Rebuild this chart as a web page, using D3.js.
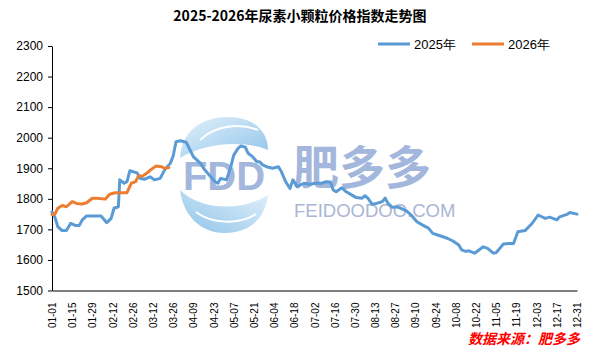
<!DOCTYPE html>
<html><head><meta charset="utf-8">
<script src="https://cdn.jsdelivr.net/npm/d3@7"></script>
<style>body{margin:0;background:#fff}svg{display:block}</style>
</head><body>
<svg id="c" width="601" height="358"></svg>
<script>
const title = "2025-2026年尿素小颗粒价格指数走势图";
const source = "数据来源：肥多多";
const seriesNames = ["2025年", "2026年"];
const xTickLabels = ["01-01","01-15","01-29","02-12","02-26","03-12","03-26","04-09","04-23","05-07","05-21","06-04","06-18","07-02","07-16","07-30","08-13","08-27","09-10","09-24","10-08","10-22","11-05","11-19","12-03","12-17","12-31"];
const yTicks = [1500,1600,1700,1800,1900,2000,2100,2200,2300];

const dates2025 = ["01-01","01-03","01-05","01-08","01-11","01-14","01-17","01-20","01-22","01-25","02-04","02-08","02-11","02-13","02-16","02-17","02-20","02-22","02-24","03-01","03-03","03-06","03-10","03-13","03-17","03-20","03-24","03-26","03-28","03-31","04-04","04-05","04-09","04-11","04-14","04-17","04-20","04-24","04-26","04-28","05-02","05-05","05-07","05-10","05-12","05-15","05-17","05-20","05-23","05-25","05-27","05-31","06-03","06-07","06-09","06-12","06-15","06-17","06-20","06-22","06-25","06-29","07-02","07-07","07-10","07-13","07-15","07-17","07-21","07-24","07-28","07-31","08-04","08-06","08-08","08-11","08-14","08-18","08-20","08-22","08-25","08-28","08-31","09-04","09-07","09-11","09-15","09-19","09-22","09-27","10-02","10-06","10-10","10-12","10-15","10-17","10-21","10-27","10-30","11-03","11-05","11-10","11-14","11-17","11-20","11-25","11-30","12-04","12-09","12-12","12-17","12-19","12-24","12-26","12-31"];
const values2025 = [1757,1740,1709,1696,1696,1720,1713,1713,1731,1744,1744,1722,1736,1769,1774,1862,1851,1856,1892,1885,1867,1864,1872,1862,1867,1894,1916,1940,1987,1990,1985,1976,1938,1929,1916,1894,1878,1856,1851,1867,1862,1905,1943,1965,1973,1969,1949,1938,1921,1921,1911,1903,1900,1905,1889,1856,1834,1862,1840,1845,1851,1847,1851,1851,1856,1855,1829,1823,1836,1823,1812,1804,1802,1810,1802,1782,1785,1791,1802,1785,1772,1774,1769,1760,1747,1725,1714,1704,1687,1679,1671,1662,1649,1633,1628,1630,1622,1643,1638,1622,1624,1652,1654,1654,1692,1696,1720,1747,1736,1740,1731,1741,1749,1755,1750];

const dates2026 = ["01-01","01-03","01-05","01-08","01-11","01-15","01-18","01-22","01-25","01-29","02-01","02-07","02-10","02-14","02-22","02-25","02-28","03-02","03-05","03-08","03-11","03-14","03-18","03-20","03-23"];
const values2026 = [1749,1750,1769,1778,1774,1791,1785,1783,1787,1802,1802,1799,1815,1820,1820,1851,1856,1875,1875,1885,1897,1907,1905,1900,1902];

const parse = s => d3.timeParse("%Y-%m-%d")("2025-" + s);
const svg = d3.select("#c");
const x = d3.scaleTime().domain([parse("01-01"), parse("12-31")]).range([52, 577]);
const y = d3.scaleLinear().domain([1500, 2300]).range([290.5, 46]);

// watermark
const wm = svg.append("g");
const defs = svg.append("defs");
const g1 = defs.append("linearGradient").attr("id","lg1").attr("x1","0").attr("y1","0").attr("x2","1").attr("y2","1");
g1.append("stop").attr("offset","0").attr("stop-color","#e3f1fb");
g1.append("stop").attr("offset","1").attr("stop-color","#8fc4ea");
const g2 = defs.append("linearGradient").attr("id","lg2").attr("x1","0").attr("y1","1").attr("x2","1").attr("y2","0");
g2.append("stop").attr("offset","0").attr("stop-color","#8fc4ea");
g2.append("stop").attr("offset","1").attr("stop-color","#e3f1fb");
wm.append("path").attr("d","M180,158 C182,128 205,117 228,117 C252,117 268,130 268,150 C245,140 205,142 180,158 Z").attr("fill","url(#lg1)");
wm.append("path").attr("d","M200,140 C215,125 240,123 258,130").attr("fill","none").attr("stroke","#ffffff").attr("stroke-width",2);
wm.append("path").attr("d","M180,190 C200,210 240,212 268,195 C265,220 248,233 225,233 C200,233 183,215 180,190 Z").attr("fill","url(#lg2)");
wm.append("path").attr("d","M196,212 C212,224 238,225 256,214").attr("fill","none").attr("stroke","#ffffff").attr("stroke-width",2);
wm.append("text").attr("x",224).attr("y",190).attr("text-anchor","middle").attr("font-family","Liberation Sans, Arial").attr("font-weight","bold").attr("font-size",40).attr("fill","#a3b7dd").text("FDD");
wm.append("text").attr("x",293).attr("y",184).attr("font-family","Noto Sans CJK SC").attr("font-weight","bold").attr("font-size",46).attr("fill","#a3b7dd").text("肥多多");
wm.append("text").attr("x",294).attr("y",217).attr("font-family","Liberation Sans, Arial").attr("font-size",18.5).attr("fill","#a9b6d4").text("FEIDOODOO.COM");

// axes
const ya = svg.append("g").attr("transform","translate(52,0)")
  .call(d3.axisLeft(y).tickValues(yTicks).tickSize(4).tickSizeOuter(0).tickFormat(d3.format("d")));
ya.select(".domain").attr("stroke","#000");
ya.selectAll(".tick line").attr("stroke","#000");
ya.selectAll("text").attr("font-family","Liberation Sans, Arial").attr("font-size",12).attr("fill","#000").attr("x",-9);

const xa = svg.append("g").attr("transform","translate(0,290.5)")
  .call(d3.axisBottom(x).tickValues(xTickLabels.map(parse)).tickSize(0).tickSizeOuter(0).tickFormat(d3.timeFormat("%m-%d")));
xa.select(".domain").attr("stroke","#000");
xa.selectAll("text").attr("font-family","Liberation Sans, Arial").attr("font-size",10).attr("fill","#000")
  .attr("transform","rotate(-90)").attr("text-anchor","end").attr("x",-12).attr("y",0).attr("dy","0.35em");

// lines
const line = d3.line().x(d => x(d[0])).y(d => y(d[1]));
const d25 = dates2025.map((s,i) => [parse(s), values2025[i]]);
const d26 = dates2026.map((s,i) => [parse(s), values2026[i]]);
svg.append("path").datum(d25).attr("d",line).attr("fill","none").attr("stroke","#5b9bd5").attr("stroke-width",3).attr("stroke-linejoin","round").attr("stroke-linecap","round");
svg.append("path").datum(d26).attr("d",line).attr("fill","none").attr("stroke","#ed7d31").attr("stroke-width",3).attr("stroke-linejoin","round").attr("stroke-linecap","round");

// title
svg.append("text").attr("x",300).attr("y",21).attr("text-anchor","middle").attr("font-family","Noto Sans CJK SC").attr("font-weight","bold").attr("font-size",14).attr("fill","#000").text(title);

// legend
const lg = [[378, "#5b9bd5", seriesNames[0]], [472, "#ed7d31", seriesNames[1]]];
lg.forEach(([lx, c, t]) => {
  svg.append("line").attr("x1",lx).attr("x2",lx+32).attr("y1",44).attr("y2",44).attr("stroke",c).attr("stroke-width",3);
  svg.append("text").attr("x",lx+36).attr("y",48.5).attr("font-family","Liberation Sans, Arial").attr("font-size",13).attr("fill","#000").text(t);
});

// source
svg.append("text").attr("x",580).attr("y",344).attr("text-anchor","end").attr("font-family","Noto Sans CJK SC").attr("font-weight","bold").attr("font-style","italic").attr("font-size",14).attr("fill","#ff0000").text(source);
</script>
</body></html>
